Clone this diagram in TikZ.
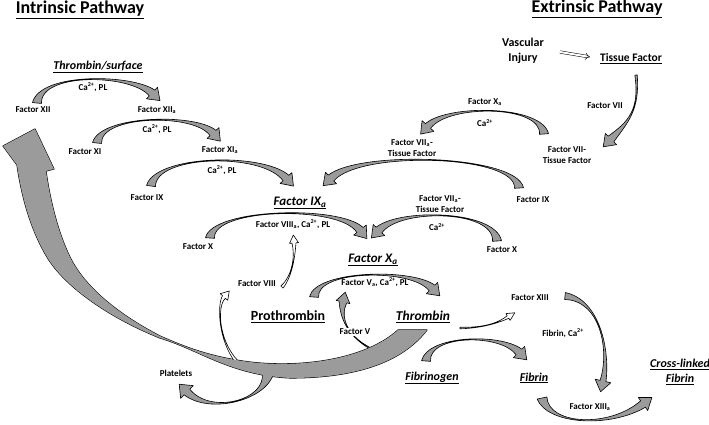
\documentclass[tikz,border=0pt]{standalone}
\usepackage{fontspec}
\setmainfont{Carlito}
\usetikzlibrary{calc,arrows.meta}
\definecolor{arrgray}{RGB}{155,155,155}
% tapered curved arrow: [style]{tail}{c1}{c2}{head base}{tail half w}{head shaft half w}{head half w}{head length}
\newcommand{\carrow}[9][]{%
  \path[arr,#1] ($(#2)!#6!90:(#3)$) .. controls (#3) and (#4) .. ($(#5)!#7!-90:(#4)$)
    -- ($(#5)!#8!-90:(#4)$) -- ($(#5)!-#9!(#4)$) -- ($(#5)!#8!90:(#4)$)
    -- ($(#5)!#7!90:(#4)$) .. controls (#4) and (#3) .. ($(#2)!#6!-90:(#3)$) -- cycle;}
\def\bigpath{(398,330) .. controls (365,360) and (300,368) .. (250,362) .. controls (210,357) and (185,347) .. (160,336) .. controls (125,318) and (85,290) .. (69,255) .. controls (58,232) and (50,200) .. (46,171) -- (54,169) -- (35,129) -- (3,146) -- (17,165) .. controls (22,200) and (32,232) .. (47,257) .. controls (65,287) and (110,318) .. (160,338) .. controls (200,350) and (230,375) .. (290,378) .. controls (350,378) and (400,365) .. (427,330) -- cycle}
\begin{document}
\begin{tikzpicture}[x=1pt,y=-1pt,
  arr/.style={fill=arrgray,draw=black,line width=0.6pt,line join=round},
  warr/.style={fill=white},
  lbl/.style={font=\fontsize{9}{11}\selectfont\bfseries,inner sep=1pt,align=center},
  title/.style={font=\fontsize{18}{20}\selectfont\bfseries,inner sep=1pt},
  big/.style={font=\fontsize{13}{15}\selectfont\bfseries\itshape,inner sep=1pt,align=center},
  mid/.style={font=\fontsize{12}{15}\selectfont\bfseries\itshape,inner sep=1pt,align=center}]
\useasboundingbox[fill=white] (0,0) rectangle (709,424);

% big thrombin feedback arrow with branches
\path[arr,line width=1.1pt] \bigpath;
\carrow{268,372}{268,400}{210,415}{187,392}{6pt}{4pt}{9pt}{11pt}
\carrow{378,352}{345,338}{340,315}{343,302}{0.8pt}{4pt}{7pt}{10pt}
\carrow[warr]{237,362}{218,340}{217,305}{224,297}{1.5pt}{2pt}{5pt}{8pt}
\path[fill=arrgray] \bigpath;

% intrinsic pathway
\carrow{37,103}{40,72}{132,74}{152,93}{4.5pt}{4pt}{8pt}{11pt}
\carrow{97,143}{100,115}{195,113}{213,133}{4.5pt}{4pt}{8pt}{11pt}
\carrow{151,186}{155,155}{262,152}{286,178}{4.5pt}{4pt}{8pt}{11pt}
\carrow{210,238}{212,208}{340,205}{360,230}{4.5pt}{4pt}{8pt}{11pt}
\carrow[warr]{282,287}{293,275}{295,255}{294,243}{1.5pt}{2pt}{4.5pt}{8pt}
% extrinsic pathway
\carrow{636,75}{640,110}{628,122}{611,139}{1.2pt}{4pt}{8pt}{11pt}
\carrow{544,134}{542,105}{448,104}{428,126}{4.5pt}{3.5pt}{8pt}{11pt}
\carrow{519,188}{517,155}{360,150}{331,178}{4.5pt}{4pt}{8pt}{11pt}
\carrow{497,241}{495,210}{400,208}{379,230}{4.5pt}{4pt}{8pt}{11pt}
% common pathway
\carrow{314,297}{316,270}{412,268}{432,288}{4.5pt}{4pt}{8pt}{11pt}
\carrow{426,361}{428,335}{500,333}{519,352}{4.5pt}{4pt}{8pt}{11pt}
\carrow[warr]{460,328}{485,328}{500,322}{508,317}{0.8pt}{1.5pt}{4pt}{8pt}
\carrow{565,296}{600,300}{610,350}{603,381}{3.5pt}{3pt}{8pt}{11pt}
\carrow{542,398}{548,425}{610,428}{643,404}{5pt}{4pt}{8pt}{11pt}

% titles
\node[title] (intr) at (80,10) {\underline{Intrinsic Pathway}};
\node[title] (extr) at (597,9) {\underline{Extrinsic Pathway}};
\node[font=\fontsize{12}{15}\selectfont\bfseries,align=center,inner sep=1pt] (vasc) at (523,51) {Vascular\\Injury};
\node[font=\fontsize{11.5}{14}\selectfont\bfseries,inner sep=1pt] (tf) at (631,59) {\underline{Tissue Factor}};
\coordinate (va) at (560,52);
\coordinate (vb) at (590,57);
\draw[double distance=2pt,line width=0.5pt,-{Implies}] (va) -- (vb);

\node[mid] (thsurf) at (98,67) {\underline{Thrombin/surface}};
\node[big] (f9a) at (300,203) {\underline{Factor IX\textsubscript{a}}};
\node[big] (f10a) at (373,260) {\underline{Factor X\textsubscript{a}}};
\node[font=\fontsize{14}{16}\selectfont\bfseries,inner sep=1pt] (prot) at (288,317) {\underline{Prothrombin}};
\node[font=\fontsize{13.5}{16}\selectfont\bfseries\itshape,inner sep=1pt] (thr) at (423,317) {\underline{Thrombin}};
\node[mid] (fbg) at (432,378) {\underline{Fibrinogen}};
\node[mid] (fbn) at (534,378) {\underline{Fibrin}};
\node[mid] (xfbn) at (680,372) {\underline{Cross-linked}\\\underline{Fibrin}};

% small labels
\node[lbl] (f12) at (33,110) {Factor XII};
\node[lbl] (c1) at (93,87) {Ca\textsuperscript{2+}, PL};
\node[lbl] (f12a) at (157,110) {Factor XII\textsubscript{a}};
\node[lbl] (c2) at (157,129) {Ca\textsuperscript{2+}, PL};
\node[lbl] (f11) at (85,152) {Factor XI};
\node[lbl] (f11a) at (220,150) {Factor XI\textsubscript{a}};
\node[lbl] (c3) at (222,170) {Ca\textsuperscript{2+}, PL};
\node[lbl] (f9) at (147,198) {Factor IX};
\node[lbl] (f8ac) at (293,224) {Factor VIII\textsubscript{a}, Ca\textsuperscript{2+}, PL};
\node[lbl] (f10) at (198,247) {Factor X};
\node[lbl] (f8) at (257,284) {Factor VIII};
\node[lbl] (f5ac) at (375,282) {Factor V\textsubscript{a}, Ca\textsuperscript{2+}, PL};
\node[lbl,fill=white] (f5) at (355,332) {Factor V};
\node[lbl] (plt) at (176,373) {Platelets};
\node[lbl] (f7) at (605,106) {Factor VII};
\node[lbl] (f10ax) at (485,102) {Factor X\textsubscript{a}};
\node[lbl] (c4) at (485,123) {Ca\textsuperscript{2+}};
\node[lbl] (f7tf) at (567,155) {Factor VII-\\Tissue Factor};
\node[lbl] (f7atf) at (412,148) {Factor VII\textsubscript{a}-\\Tissue Factor};
\node[lbl] (f9x) at (533,200) {Factor IX};
\node[lbl] (f7atf2) at (440,204) {Factor VII\textsubscript{a}-\\Tissue Factor};
\node[lbl] (c5) at (437,227) {Ca\textsuperscript{2+}};
\node[lbl] (f10x) at (502,250) {Factor X};
\node[lbl] (f13) at (530,298) {Factor XIII};
\node[lbl] (fbc) at (563,333) {Fibrin, Ca\textsuperscript{2+}};
\node[lbl] (f13a) at (590,407) {Factor XIII\textsubscript{a}};
\end{tikzpicture}
\end{document}
